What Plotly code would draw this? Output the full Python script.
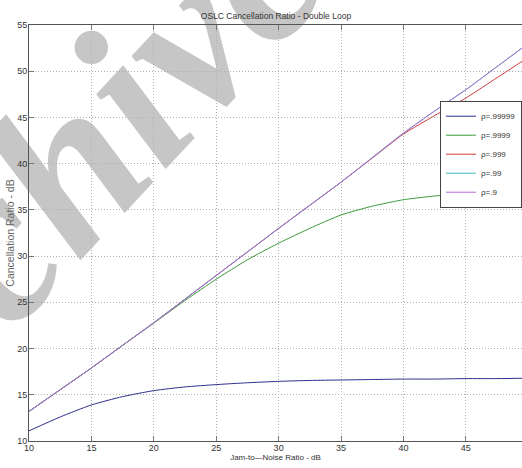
import plotly.graph_objects as go

# Jam-to-Noise ratio (dB)
jnr = [10, 12.5, 15, 17.5, 20, 22.5, 25, 27.5, 30, 32.5, 35, 37.5, 40, 42.5, 45, 47.5, 50]

# Cancellation ratio (dB) for each correlation coefficient
cr_99999 = [11.1, 12.6, 13.9, 14.8, 15.45, 15.85, 16.1, 16.3, 16.45, 16.55, 16.6, 16.65, 16.7, 16.7, 16.75, 16.75, 16.8]
cr_9999 = [13.2, 15.55, 17.9, 20.35, 22.75, 25.2, 27.5, 29.6, 31.4, 33.0, 34.45, 35.4, 36.1, 36.5, 36.75, 36.85, 36.9]
cr_999 = [13.2, 15.55, 17.9, 20.35, 22.8, 25.35, 27.9, 30.45, 33.0, 35.5, 38.0, 40.6, 43.2, 45.2, 47.1, 49.3, 51.5]
cr_99 = [13.2, 15.55, 17.9, 20.35, 22.8, 25.35, 27.9, 30.45, 33.0, 35.5, 38.0, 40.65, 43.3, 45.7, 48.0, 50.5, 53.0]
cr_9 = [13.2, 15.55, 17.9, 20.35, 22.8, 25.35, 27.9, 30.45, 33.0, 35.5, 38.0, 40.65, 43.3, 45.7, 48.0, 50.5, 53.0]

labels = ["ρ=.99999", "ρ=.9999", "ρ=.999", "ρ=.99", "ρ=.9"]
series = [cr_99999, cr_9999, cr_999, cr_99, cr_9]
colors = ["#2f2f8f", "#3c9a3c", "#d23c3c", "#3cbcbc", "#b36bd1"]

x_ticks = [10, 15, 20, 25, 30, 35, 40, 45, 50]
y_ticks = [10, 15, 20, 25, 30, 35, 40, 45, 50, 55]

SANS = "Liberation Sans, Arial, sans-serif"
TICKFONT = dict(family=SANS, size=9, color="#333333")

fig = go.Figure()
for lab, ys, col in zip(labels, series, colors):
    fig.add_trace(go.Scatter(x=jnr, y=ys, mode="lines", name=lab,
                             line=dict(color=col, width=1, shape="spline", smoothing=0.6)))

fig.update_layout(
    template="none",
    width=522, height=468,
    margin=dict(l=29, r=0, t=25, b=27, autoexpand=False),
    paper_bgcolor="white", plot_bgcolor="white",
    showlegend=True,
    legend=dict(x=1.0, y=0.818, xanchor="right", yanchor="top",
                bgcolor="white", bordercolor="#444444", borderwidth=1,
                font=dict(family=SANS, size=8, color="#333333"),
                itemwidth=30, tracegroupgap=0),
    title=dict(text="OSLC Cancellation Ratio - Double Loop", x=(276 / 522), xanchor="center",
               y=1 - 16 / 468, yanchor="middle",
               font=dict(family=SANS, size=8.5, color="#333333")),
    xaxis=dict(range=[10, 49.5], tickvals=x_ticks, ticks="inside", ticklen=5, tickcolor="#777777",
               showline=True, linecolor="#555555", linewidth=1, mirror="ticks",
               showgrid=True, gridcolor="#b0b0b0", griddash="1px,2px", gridwidth=1,
               zeroline=False, tickfont=TICKFONT, ticklabelstandoff=-2, automargin=False,
               title=dict(text="Jam-to—Noise Ratio - dB", standoff=2,
                          font=dict(family=SANS, size=8, color="#333333"))),
    yaxis=dict(range=[10, 55], tickvals=y_ticks, ticks="inside", ticklen=5, tickcolor="#777777",
               showline=True, linecolor="#555555", linewidth=1, mirror=False,
               showgrid=True, gridcolor="#b0b0b0", griddash="1px,2px", gridwidth=1,
               zeroline=False, tickfont=TICKFONT, ticklabelstandoff=-1, automargin=False,
               title=dict(text="Cancellation Ratio - dB", standoff=0,
                          font=dict(family=SANS, size=10.5, color="#666666"))),
)

# faint watermark present in the source image, drawn underneath everything
fig.add_shape(type="rect", xref="paper", yref="paper",
              x0=(22 - 29) / 493, x1=(22 - 29) / 493, y0=(441 - 178) / 416, y1=(441 - 178) / 416,
              line=dict(width=0), fillcolor="rgba(0,0,0,0)", layer="below",
              label=dict(text="Archive", textangle=-47, textposition="middle center",
                         xanchor="center", yanchor="middle",
                         font=dict(family="Liberation Serif, serif", size=222, color="#c6c6c6",
                                   weight="bold", style="italic")))

fig.write_html("out.html", config={"displayModeBar": False},
               post_script="document.body.style.margin='0';document.body.style.overflow='hidden';")
